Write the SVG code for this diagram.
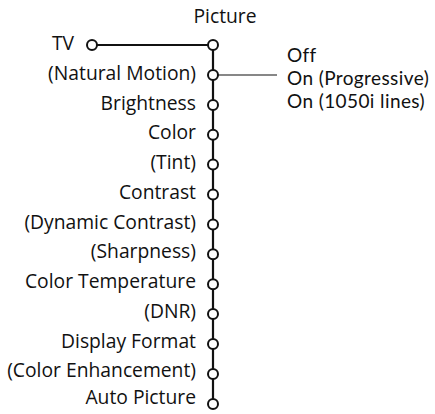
<svg xmlns="http://www.w3.org/2000/svg" width="435" height="414" viewBox="0 0 435 414">
<style>
text{font-family:"Open Sans","DejaVu Sans",sans-serif;font-size:19.3px;fill:#111}
.l{text-anchor:end}
.o{font-family:Lato,"Open Sans",sans-serif;font-size:19px;letter-spacing:0.4px}
.n{fill:#fff;stroke:#111;stroke-width:2}
.w{stroke:#111;stroke-width:2.2;fill:none}
.t{stroke:#111;stroke-width:1.1;fill:none}
</style>
<rect width="435" height="414" fill="#fff"/>
<g id="connectors">
<line class="w" x1="92" y1="45" x2="213" y2="45"/>
<line class="w" x1="213" y1="45" x2="213" y2="404"/>
<line class="t" x1="213" y1="75" x2="277" y2="75"/>
</g>
<g id="picture"><text x="225" y="23" text-anchor="middle">Picture</text><circle class="n" cx="213" cy="45" r="5"/></g>
<g id="tv"><text class="l" x="74" y="49.5">TV</text><circle class="n" cx="92" cy="45" r="5"/></g>
<g id="natural-motion"><text class="l" x="196" y="79.5">(Natural Motion)</text><circle class="n" cx="213" cy="75" r="5"/></g>
<g id="brightness"><text class="l" x="196" y="109.5">Brightness</text><circle class="n" cx="213" cy="105" r="5"/></g>
<g id="color"><text class="l" x="196" y="139">Color</text><circle class="n" cx="213" cy="134.7" r="5"/></g>
<g id="tint"><text class="l" x="196" y="169">(Tint)</text><circle class="n" cx="213" cy="164.6" r="5"/></g>
<g id="contrast"><text class="l" x="196" y="198.5">Contrast</text><circle class="n" cx="213" cy="194.5" r="5"/></g>
<g id="dynamic-contrast"><text class="l" x="196" y="228.5">(Dynamic Contrast)</text><circle class="n" cx="213" cy="224.4" r="5"/></g>
<g id="sharpness"><text class="l" x="196" y="258">(Sharpness)</text><circle class="n" cx="213" cy="254.3" r="5"/></g>
<g id="color-temperature"><text class="l" x="196" y="288">Color Temperature</text><circle class="n" cx="213" cy="284.2" r="5"/></g>
<g id="dnr"><text class="l" x="196" y="318">(DNR)</text><circle class="n" cx="213" cy="314.1" r="5"/></g>
<g id="display-format"><text class="l" x="196" y="347.5">Display Format</text><circle class="n" cx="213" cy="344" r="5"/></g>
<g id="color-enhancement"><text class="l" x="196" y="377">(Color Enhancement)</text><circle class="n" cx="213" cy="373.9" r="5"/></g>
<g id="auto-picture"><text class="l" x="196" y="403.5">Auto Picture</text><circle class="n" cx="213" cy="404" r="5"/></g>
<g id="options">
<text class="o" x="287" y="61.7">Off</text>
<text class="o" x="287" y="85">On (Progressive)</text>
<text class="o" x="287" y="108.3">On (1050i lines)</text>
</g>
</svg>
